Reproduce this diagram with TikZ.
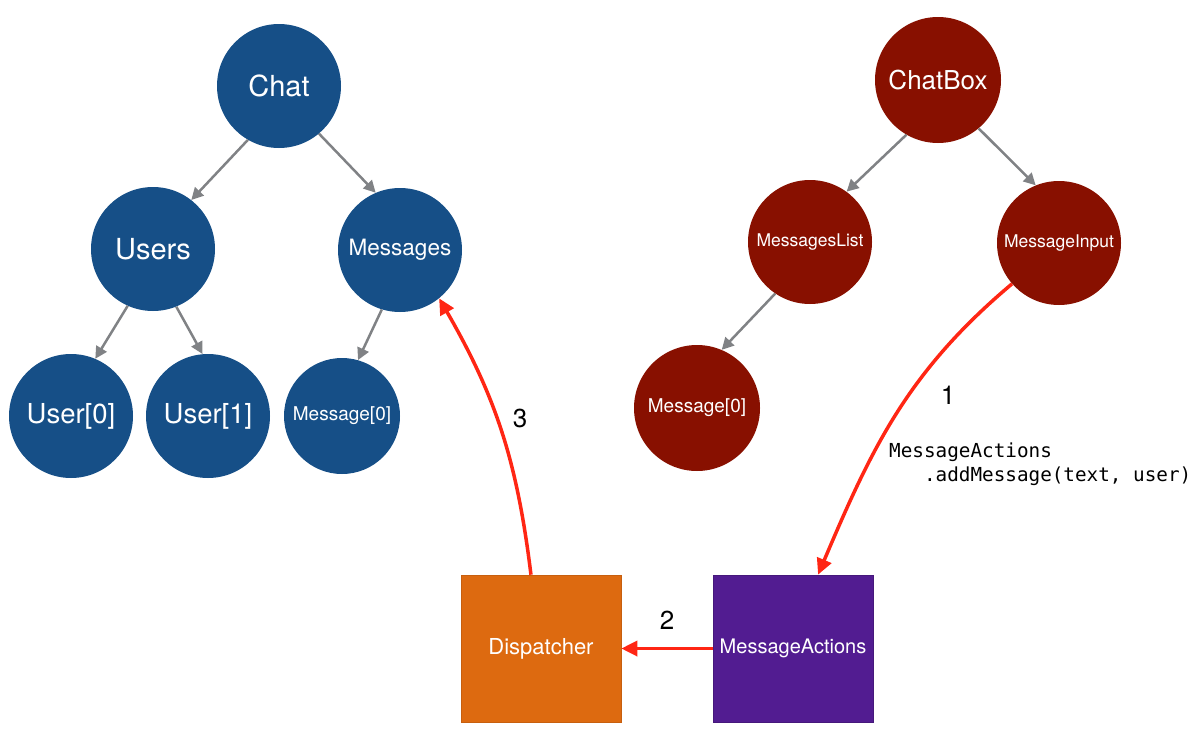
\documentclass[tikz,border=0pt]{standalone}
\usepackage{fontspec}
\setmainfont{TeX Gyre Heros}
\newfontfamily\monofont{DejaVu Sans Mono}
\usetikzlibrary{arrows.meta,calc}
\definecolor{cblue}{RGB}{22,79,135}
\definecolor{cred}{RGB}{136,16,0}
\definecolor{corange}{RGB}{221,106,16}
\definecolor{cpurple}{RGB}{82,28,145}
\definecolor{carrow}{RGB}{255,38,20}
\definecolor{cgray}{RGB}{128,130,133}
\begin{document}
\begin{tikzpicture}[x=1pt,y=1pt,
  bnode/.style={circle,fill=cblue,text=white,inner sep=0pt,minimum size=124pt},
  rnode/.style={circle,fill=cred,text=white,inner sep=0pt,minimum size=124pt},
  sqnode/.style={rectangle,text=white,inner sep=0pt,minimum width=160pt,minimum height=147pt,line width=0.6pt},
  garrow/.style={draw=cgray,line width=2.5pt,-{Triangle[length=12pt,width=12pt]}},
  rarrow/.style={draw=carrow,line width=3.5pt,-{Triangle[length=16pt,width=15pt]}},
  numlbl/.style={font=\fontsize{26}{30}\selectfont,inner sep=0pt},
  fs/.style={font=\fontsize{#1}{#1}\selectfont}]
\useasboundingbox (0,0) rectangle (1200,-731);
% left tree
\node[bnode,fs=29] (chat) at (279,-86) {Chat};
\node[bnode,fs=29] (users) at (153,-249) {Users};
\node[bnode,fs=22.5] (msgs) at (400,-250) {Messages};
\node[bnode,fs=27.5] (u0) at (71,-416) {User[0]};
\node[bnode,fs=27.5] (u1) at (208,-416) {User[1]};
\node[bnode,fs=19,minimum size=116pt] (m0l) at (342,-416) {Message[0]};
% right tree
\node[rnode,fs=26,minimum size=126pt] (chatbox) at (938,-80) {ChatBox};
\node[rnode,fs=17.5] (mlist) at (810,-242) {MessagesList};
\node[rnode,fs=17.5] (minput) at (1059,-243) {MessageInput};
\node[rnode,fs=19,minimum size=126pt] (m0r) at (697,-408) {Message[0]};
% boxes
\node[sqnode,fill=corange,draw=corange!90!black,fs=22] (disp) at (541,-648.5) {Dispatcher};
\node[sqnode,fill=cpurple,draw=cpurple!85!black,fs=20] (ma) at (793,-648.5) {MessageActions};
% gray arrows
\draw[garrow] (chat.240) -- (users.52);
\draw[garrow] (chat.-50) -- (msgs.113);
\draw[garrow] (users.246) -- (u0.67);
\draw[garrow] (users.-68) -- (u1.95);
\draw[garrow] (msgs.253) -- (m0l.74);
\draw[garrow] (chatbox.240) -- (mlist.54);
\draw[garrow] (chatbox.-50) -- (minput.112);
\draw[garrow] (mlist.236) -- (m0r.67);
% red arrows
\coordinate (maTop) at ($(ma.north west)!0.656!(ma.north east)$);
\coordinate (dispTop) at ($(disp.north west)!0.4375!(disp.north east)$);
\draw[rarrow] (minput.221) to[out=220,in=67] (maTop);
\draw[rarrow] (dispTop) to[out=97,in=-60] (msgs.-51);
\draw[rarrow] (ma.west) -- (disp.east);
% labels
\node[numlbl] (l1) at (948,-395) {1};
\node[numlbl] (l2) at (667,-620) {2};
\node[numlbl] (l3) at (520,-418) {3};
\node[anchor=base west,inner sep=0pt,align=left,font=\monofont\fontsize{19.3}{24}\selectfont] (code) at (889,-481) {MessageActions\\\hphantom{xxx}.addMessage(text, user)};
\end{tikzpicture}
\end{document}
